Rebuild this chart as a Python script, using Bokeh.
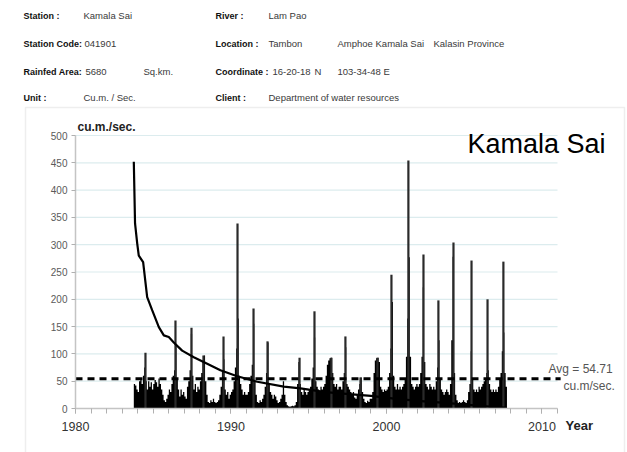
from bokeh.plotting import figure
from bokeh.models import Range1d, Label, PolyAnnotation, SingleIntervalTicker
from bokeh.embed import file_html
from bokeh.resources import INLINE

# ---------------- data ----------------
flow_years = list(range(1983, 2008))
first_month_1983 = 9  # series starts in October 1983 (0-based month)
monthly_flow = [
    [45, 42, 35],                                            # 1983 Oct-Dec
    [30, 50, 55, 45, 60, 75, 50, 35, 50, 40, 48, 35],        # 1984
    [45, 52, 48, 40, 55, 45, 35, 25, 15, 12, 18, 25],        # 1985
    [35, 30, 45, 60, 70, 115, 55, 35, 22, 35, 25, 30],       # 1986
    [22, 18, 40, 50, 70, 137, 60, 35, 45, 30, 40, 35],       # 1987
    [50, 65, 85, 97, 50, 25, 12, 10, 15, 12, 18, 12],        # 1988
    [10, 12, 15, 25, 40, 70, 90, 35, 25, 30, 18, 25],        # 1989
    [30, 35, 50, 75, 110, 165, 60, 45, 35, 25, 30, 25],      # 1990
    [25, 30, 45, 60, 80, 155, 50, 25, 12, 10, 15, 12],       # 1991
    [18, 25, 40, 65, 121, 45, 30, 25, 18, 25, 22, 15],       # 1992
    [10, 12, 18, 25, 50, 25, 12, 6, 4, 3, 4, 5],             # 1993
    [4, 6, 12, 45, 85, 45, 30, 25, 35, 30, 25, 30],          # 1994
    [35, 40, 55, 75, 130, 50, 40, 35, 30, 40, 35, 40],       # 1995
    [45, 60, 80, 88, 92, 93, 65, 45, 40, 45, 35, 40],        # 1996
    [40, 35, 50, 65, 112, 45, 40, 35, 30, 25, 30, 20],       # 1997
    [18, 25, 35, 45, 57, 30, 18, 12, 10, 14, 12, 18],        # 1998
    [18, 30, 65, 88, 92, 93, 85, 40, 35, 30, 35, 32],        # 1999
    [35, 40, 65, 110, 195, 60, 40, 35, 45, 35, 40, 35],      # 2000
    [40, 45, 55, 95, 165, 277, 95, 45, 40, 35, 40, 45],      # 2001
    [40, 45, 65, 95, 222, 85, 45, 40, 35, 45, 40, 35],       # 2002
    [40, 35, 50, 75, 125, 55, 35, 30, 25, 30, 35, 30],       # 2003
    [25, 45, 125, 278, 65, 25, 15, 10, 12, 10, 12, 15],      # 2004
    [12, 10, 15, 30, 45, 105, 55, 35, 30, 35, 30, 40],       # 2005
    [35, 40, 45, 50, 55, 65, 70, 45, 35, 30, 35, 30],        # 2006
    [35, 30, 40, 55, 65, 105, 139, 65, 40],                  # 2007 Jan-Sep
]

peak_years = [1984.50, 1986.43, 1987.46, 1988.23, 1989.52, 1990.42, 1991.45,
              1992.35, 1994.41, 1995.37, 1996.46, 1997.36, 1998.33, 1999.42,
              2000.32, 2001.41, 2002.38, 2003.34, 2004.31, 2005.47, 2006.50,
              2007.52]
peak_values = [102, 161, 148, 97, 132, 339, 183, 123, 93, 178, 93, 132, 57, 93,
               245, 454, 282, 198, 304, 271, 200, 269]

duration_years = [1983.75, 1983.83, 1983.97, 1984.07, 1984.35, 1984.61, 1984.93,
                  1985.36, 1985.68, 1986.00, 1986.32, 1986.86, 1987.61, 1988.47,
                  1989.32, 1990.40, 1991.69, 1993.40, 1994.47, 1996.08, 1998.20,
                  1999.00, 2000.50, 2002.00, 2004.00, 2006.00, 2007.72]
duration_values = [452, 339, 302, 280, 268, 204, 180, 149, 134, 131, 121, 106,
                   94, 82, 70, 59, 49, 40, 37, 30, 25, 23, 18, 14, 10, 5, 1]

avg_flow = 54.71
x_start, x_end = 1980, 2011
y_start, y_end = 0, 500
y_grid_values = [50, 100, 150, 200, 250, 300, 350, 400, 450, 500]

header_rows = [
    [("Station :", True), ("Kamala Sai", False), ("River :", True), ("Lam Pao", False)],
    [("Station Code:", True), ("041901", False), ("Location :", True), ("Tambon", False),
     ("Amphoe Kamala Sai", False), ("Kalasin Province", False)],
    [("Rainfed Area:", True), ("5680", False), ("Sq.km.", False), ("Coordinate :", True),
     ("16-20-18", False), ("N", False), ("103-34-48", False), ("E", False)],
    [("Unit :", True), ("Cu.m. / Sec.", False), ("Client :", True),
     ("Department of water resources", False)],
]
header_x = [
    [23, 83, 215, 268],
    [23, 84, 215, 268, 337, 433],
    [23, 85, 143, 215, 272, 314, 337, 383],
    [23, 83, 215, 268],
]
header_y = [15, 43, 71, 97]

# ---------------- layout geometry (page pixels) ----------------
W, H = 627, 452
PX_X0, PX_X1 = 75, 557    # pixel columns of x_start / x_end
PX_Y0, PX_Y1 = 408, 135   # pixel rows of y_start / y_end
sx = (x_end - x_start) / (PX_X1 - PX_X0)
sy = (y_end - y_start) / (PX_Y0 - PX_Y1)
x_range = Range1d(x_start - PX_X0 * sx, x_start + (W - PX_X0) * sx)
y_range = Range1d(y_start - (H - PX_Y0) * sy, y_end + PX_Y1 * sy)

# ---------------- step area from monthly values ----------------
step_x, step_y = [], []
for yr, row in zip(flow_years, monthly_flow):
    m0 = first_month_1983 if yr == 1983 else 0
    for i, v in enumerate(row):
        step_x += [yr + (m0 + i) / 12.0, yr + (m0 + i + 1) / 12.0]
        step_y += [v, v]

# ---------------- figure ----------------
p = figure(width=W, height=H, x_range=x_range, y_range=y_range,
           output_backend="svg", toolbar_location=None, title=None,
           min_border=0, min_border_left=0, min_border_right=0,
           min_border_top=0, min_border_bottom=0)
p.outline_line_color = None
p.background_fill_color = "white"
p.border_fill_color = "white"
p.grid.visible = False

xa, ya = p.xaxis[0], p.yaxis[0]
xa.fixed_location = y_start
ya.fixed_location = x_start
xa.bounds = (x_start, x_end)
ya.bounds = (y_start, y_end)
ya.ticker = SingleIntervalTicker(interval=50, num_minor_ticks=0)
xa.ticker = SingleIntervalTicker(interval=10, num_minor_ticks=10)
for ax in (xa, ya):
    ax.axis_line_color = "#c4c4c4"
    ax.axis_line_width = 1.5
    ax.major_tick_line_color = "#b0b0b0"
    ax.minor_tick_line_color = "#b0b0b0"
    ax.major_tick_in = 0
    ax.minor_tick_in = 0
ya.major_tick_out = 4
ya.minor_tick_out = 0
xa.major_tick_out = 5
xa.minor_tick_out = 5
ya.major_label_text_font = "Liberation Sans"
ya.major_label_text_font_size = "10px"
ya.major_label_text_color = "#5a5a5a"
ya.major_label_standoff = 4
xa.major_label_text_font = "Liberation Sans"
xa.major_label_text_font_size = "12.5px"
xa.major_label_text_color = "#333333"
xa.major_label_standoff = 8

# grid lines (only across the axis span)
p.segment(x0=[x_start] * len(y_grid_values), x1=[x_end] * len(y_grid_values),
          y0=y_grid_values, y1=y_grid_values, line_color="#dcecee", line_width=1.2)

# flow series
p.varea(x=step_x, y1=0, y2=step_y, fill_color="black")
p.segment(x0=peak_years, y0=[0] * len(peak_years), x1=peak_years, y1=peak_values,
          line_color="#2a2a2a", line_width=2.2)
# duration curve
p.line(duration_years, duration_values, line_color="black", line_width=2.2)
# average line
p.line([x_start, x_end + 0.2], [avg_flow, avg_flow], line_color="black",
       line_width=3, line_dash="7 5")


def lab(text, px, py, size, bold=False, color="#111111", font="Liberation Sans",
        align="left", baseline="middle"):
    p.add_layout(Label(x=px, y=H - py, x_units="screen", y_units="screen", text=text,
                       text_font=font, text_font_size=size,
                       text_font_style="bold" if bold else "normal",
                       text_color=color, text_align=align, text_baseline=baseline))


# chart box
p.add_layout(PolyAnnotation(xs=[25, 624, 624, 25], ys=[H - 107, H - 107, -20, -20],
                            xs_units="screen", ys_units="screen",
                            fill_color=None, fill_alpha=0, line_color="#c8c8c8",
                            line_width=1.5))

# header
for row, xs, py in zip(header_rows, header_x, header_y):
    for (txt, bold), px in zip(row, xs):
        if bold:
            lab(txt, px, py, "9px", bold=True, color="#111111")
        else:
            lab(txt, px, py, "9.5px", color="#3a3a3a")

lab("Kamala Sai", 605, 143, "27px", align="right", baseline="alphabetic", color="black")
lab("cu.m./sec.", 77, 126, "12px", bold=True, color="#222222")
lab("Year", 565, 425, "13px", bold=True, color="#222222")
lab("Avg = " + str(avg_flow), 548, 368, "12px", color="#555555")
lab("cu.m/sec.", 563, 385, "12px", color="#555555")

open("out.html", "w").write(file_html(p, INLINE))
